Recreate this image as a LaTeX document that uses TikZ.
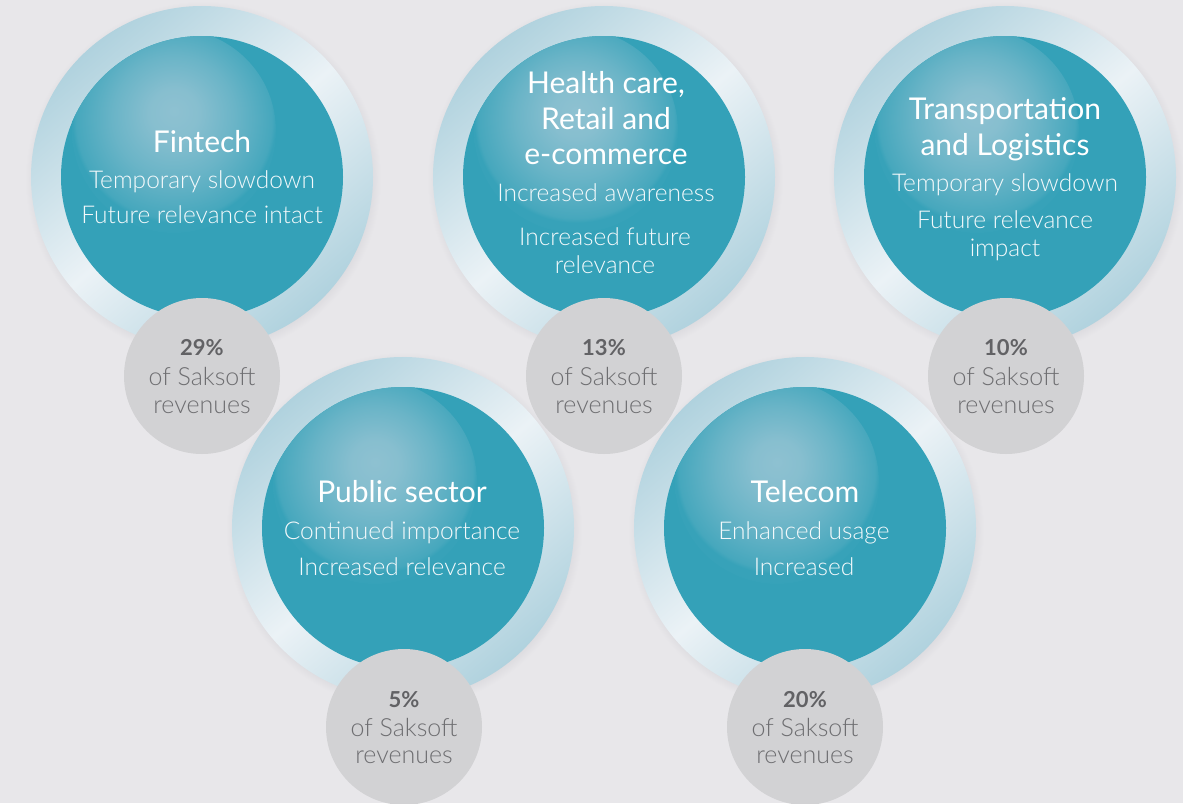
\documentclass[tikz,border=0pt]{standalone}
\usepackage{fontspec}
\setmainfont{Lato}
\newfontfamily\lightfont{Lato Light}
\definecolor{bg}{HTML}{E8E7EA}
\definecolor{tealc}{HTML}{34A1B8}
\definecolor{hl}{HTML}{8EC1D1}
\definecolor{ringblue}{HTML}{B0D2DE}
\definecolor{ringwhite}{HTML}{EBF2F6}
\definecolor{greyc}{HTML}{D2D2D4}
\definecolor{txtgrey}{HTML}{6E6E71}
\definecolor{pctc}{HTML}{626265}
\definecolor{shd}{HTML}{DCDBDF}
\pgfdeclareradialshading{glow}{\pgfpoint{0bp}{5bp}}{color(0bp)=(hl); color(6bp)=(hl!92!tealc); color(15bp)=(hl!60!tealc); color(24bp)=(hl!20!tealc); color(25bp)=(tealc!97!hl); color(50bp)=(tealc)}
\pgfdeclareradialshading{ringshadow}{\pgfpoint{0bp}{0bp}}{color(0bp)=(shd); color(23.5bp)=(shd); color(25bp)=(bg); color(50bp)=(bg)}
\tikzset{
  ring/.style={top color=ringblue, bottom color=ringblue, middle color=ringwhite, shading angle=40},
  disc/.style={circle, fill=tealc, minimum size=282pt, inner sep=0pt},
  greydisc/.style={circle, fill=greyc, minimum size=156pt, inner sep=0pt},
  title/.style={anchor=base, inner sep=0pt, text=white, font=\fontsize{30}{33}\selectfont},
  body/.style={anchor=base, inner sep=0pt, text=white!94!tealc, font=\lightfont\fontsize{24.5}{28}\selectfont},
  pct/.style={anchor=base, inner sep=0pt, text=pctc, font=\bfseries\fontsize{22}{26}\selectfont},
  rev/.style={anchor=base, inner sep=0pt, text=txtgrey, font=\lightfont\fontsize{25}{28}\selectfont},
}
\newcommand\mybubble[3]{%
  \shade[shading=ringshadow] (#2+1,#3+2) circle (178pt);
  \shade[ring] (#2,#3) circle (171pt);
  \node[disc] (#1) at (#2,#3) {};
  \begin{scope}
    \clip (#1.center) circle (141pt);
    \shade[shading=glow] (#2-28,#3-46) circle (102pt);
  \end{scope}
}
\begin{document}
\begin{tikzpicture}[x=1pt,y=-1pt]
\fill[bg] (0,0) rectangle (1183,803);
\useasboundingbox (0,0) rectangle (1183,803);

\mybubble{fin}{202}{177}
\mybubble{hea}{604}{177}
\mybubble{tra}{1005}{177}
\mybubble{pub}{403}{528}
\mybubble{tel}{805}{528}

\node[greydisc] (gfin) at (202,376) {};
\node[greydisc] (ghea) at (604,376) {};
\node[greydisc] (gtra) at (1006,376) {};
\node[greydisc] (gpub) at (404,727) {};
\node[greydisc] (gtel) at (805,727) {};

% Fintech
\node[title] (fint) at (202,152) {Fintech};
\node[body] (fin1) at (202,188) {Temporary slowdown};
\node[body] (fin2) at (202,223) {Future relevance intact};
% Health
\node[title] (heat1) at (606,93) {Health care,};
\node[title] (heat2) at (606,129) {Retail and};
\node[title] (heat3) at (606,164) {e-commerce};
\node[body] (hea1) at (606,201) {Increased awareness};
\node[body] (hea2) at (605,245) {Increased future};
\node[body] (hea3) at (605,273) {relevance};
% Transportation
\node[title] (trat1) at (1005,119) {Transportation};
\node[title] (trat2) at (1005,155) {and Logistics};
\node[body] (tra1) at (1005,191) {Temporary slowdown};
\node[body] (tra2) at (1005,228) {Future relevance};
\node[body] (tra3) at (1005,256) {impact};
% Public
\node[title] (pubt) at (402,502) {Public sector};
\node[body] (pub1) at (402,539) {Continued importance};
\node[body] (pub2) at (402,575) {Increased relevance};
% Telecom
\node[title] (telt) at (805,502) {Telecom};
\node[body] (tel1) at (804,539) {Enhanced usage};
\node[body] (tel2) at (804,575) {Increased};

% grey labels
\node[pct] (p1) at (202,355) {29\%};
\node[rev] (r1a) at (202,385) {of Saksoft};
\node[rev] (r1b) at (202,413) {revenues};
\node[pct] (p2) at (604,355) {13\%};
\node[rev] (r2a) at (604,385) {of Saksoft};
\node[rev] (r2b) at (604,413) {revenues};
\node[pct] (p3) at (1006,355) {10\%};
\node[rev] (r3a) at (1006,385) {of Saksoft};
\node[rev] (r3b) at (1006,413) {revenues};
\node[pct] (p4) at (404,707) {5\%};
\node[rev] (r4a) at (404,736) {of Saksoft};
\node[rev] (r4b) at (404,763) {revenues};
\node[pct] (p5) at (805,707) {20\%};
\node[rev] (r5a) at (805,736) {of Saksoft};
\node[rev] (r5b) at (805,763) {revenues};
\end{tikzpicture}
\end{document}
